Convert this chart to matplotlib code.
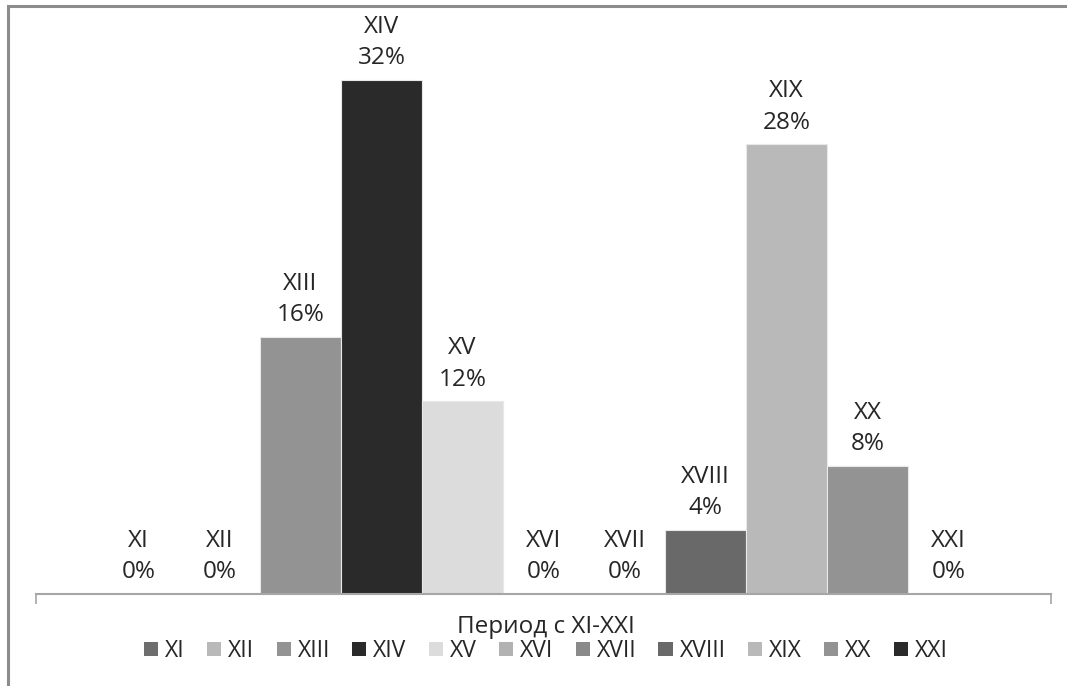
import matplotlib
matplotlib.use("Agg")
import matplotlib.pyplot as plt
from matplotlib.patches import Rectangle, Patch

plt.rcParams['font.family'] = ['Open Sans', 'DejaVu Sans']

centuries = ["XI", "XII", "XIII", "XIV", "XV", "XVI", "XVII", "XVIII", "XIX", "XX", "XXI"]
shares = [0, 0, 16, 32, 12, 0, 0, 4, 28, 8, 0]  # percent
colors = ["#6e6e6e", "#b9b9b9", "#939393", "#2a2a2a", "#dcdcdc", "#b2b2b2",
          "#8a8a8a", "#696969", "#b9b9b9", "#939393", "#2a2a2a"]
category = "Период с XI-XXI"

W, H = 1067, 686
fig = plt.figure(figsize=(W / 100, H / 100), dpi=100)

# frame of the chart area (only top and left edges fall inside the image)
fig.patches.append(Rectangle((8 / W, -0.1), 1.2, 1 - 6 / H + 0.1, transform=fig.transFigure,
                             fill=False, edgecolor="#8c8c8c", linewidth=2.2))

ax = fig.add_axes([36 / W, 1 - 594 / H, (1051 - 36) / W, (594 - 32) / H])
x = list(range(len(centuries)))
ax.bar(x, shares, width=1.0, color=colors, edgecolor="#e8e8e8", linewidth=0.8)

for xi, name, v in zip(x, centuries, shares):
    ax.annotate(f"{name}\n{v}%", (xi, v), xytext=(0, 7), textcoords="offset points",
                ha="center", va="bottom", fontsize=17.5, color="#262626", linespacing=1.4)

pad = 0.765
ax.set_xlim(-0.5 - pad, 10.5 + pad)
ax.set_ylim(0, 35)
for s in ("top", "right", "left"):
    ax.spines[s].set_visible(False)
ax.spines["bottom"].set_color("#a6a6a6")
ax.spines["bottom"].set_linewidth(1.5)
ax.set_yticks([])
ax.set_xticks([-0.5 - pad, 10.5 + pad])
ax.set_xticklabels([])
ax.tick_params(axis="x", direction="out", length=7, width=1.2, color="#a6a6a6")

fig.text(546 / W, 1 - 627 / H, category, ha="center", va="center", fontsize=17.5, color="#262626")

handles = [Patch(facecolor=c, edgecolor="none") for c in colors]
fig.legend(handles, centuries, loc="center", bbox_to_anchor=(546 / W, 1 - 651 / H),
           ncol=len(centuries), frameon=False, fontsize=16.5, handlelength=0.62, handleheight=0.62,
           handletextpad=0.3, columnspacing=0.97, borderpad=0, labelcolor="#262626")

fig.savefig("out.png", dpi=100)
